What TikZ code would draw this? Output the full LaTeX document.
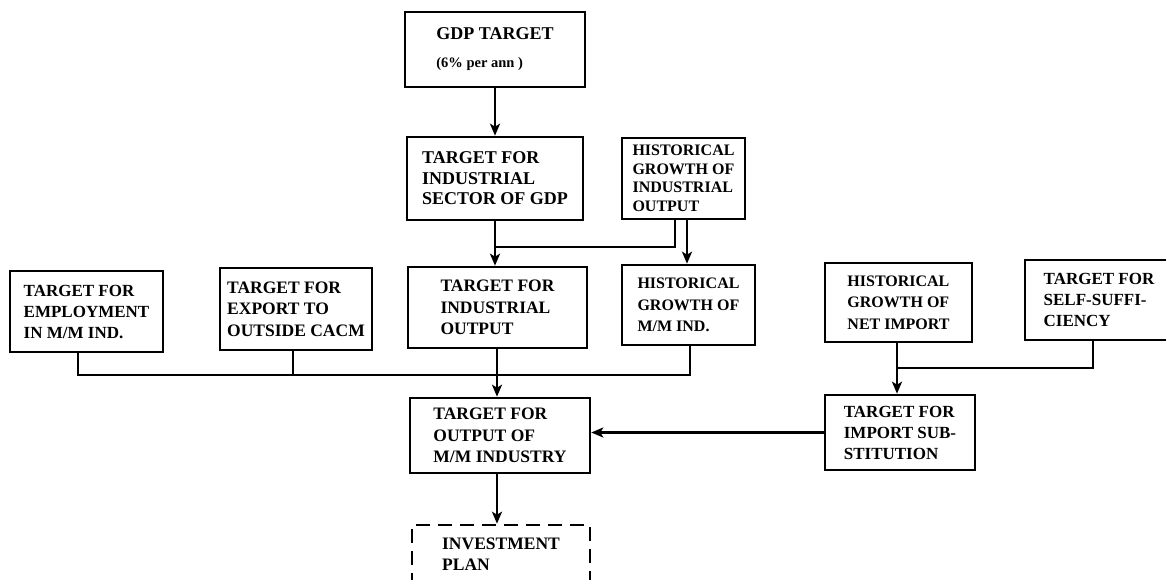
\documentclass[tikz,border=0pt]{standalone}
\usepackage{fontspec}
\setmainfont{Liberation Serif}
\usetikzlibrary{arrows.meta}
\begin{document}
\begin{tikzpicture}[x=1pt,y=-1pt,
  bx/.style={draw, line width=2.6pt, rectangle, align=left,
    font=\bfseries\fontsize{17.5}{21.5}\selectfont, inner sep=0pt},
  small/.style={font=\bfseries\fontsize{16}{18.5}\selectfont},
  narrow/.style={font=\bfseries\fontsize{16}{21.5}\selectfont},
  mid/.style={font=\bfseries\fontsize{17}{21}\selectfont},
  link/.style={line width=2.8pt},
  arr/.style={link, -{Stealth[length=12pt,width=10pt,inset=3pt]}},
]
\clip (0,0) rectangle (1166,580);
\fill[white] (0,0) rectangle (1166,580);

% top chain
\node[bx, font=\bfseries\fontsize{18}{22}\selectfont, minimum width=180pt, minimum height=75pt]
  (gdp) at (495,49.5) {GDP TARGET\\[6pt]{\fontsize{14.5}{17}\selectfont (6\% per ann )}};
\node[bx, font=\bfseries\fontsize{18}{20.5}\selectfont, minimum width=176pt, minimum height=83pt]
  (sector) at (495,178.5) {TARGET FOR\\INDUSTRIAL\\SECTOR OF GDP};
\node[bx, small, minimum width=123pt, minimum height=81pt]
  (histind) at (683.5,178.5) {HISTORICAL\\GROWTH OF\\INDUSTRIAL\\OUTPUT};

% middle row
\node[bx, mid, minimum width=153pt, minimum height=81pt]
  (employ) at (86.5,311.5) {TARGET FOR\\EMPLOYMENT\\IN M/M IND.};
\node[bx, minimum width=152pt, minimum height=82pt]
  (export) at (296,309) {TARGET FOR\\EXPORT TO\\OUTSIDE CACM};
\node[bx, minimum width=179pt, minimum height=81pt]
  (indout) at (497.5,307.5) {TARGET FOR\\INDUSTRIAL\\OUTPUT};
\node[bx, narrow, minimum width=133pt, minimum height=80pt]
  (histmm) at (688.5,305) {HISTORICAL\\GROWTH OF\\M/M IND.};
\node[bx, narrow, minimum width=147pt, minimum height=79pt]
  (netimp) at (898.5,302.5) {HISTORICAL\\GROWTH OF\\NET IMPORT};
\node[bx, mid, minimum width=148pt, minimum height=80pt]
  (selfsuf) at (1099,300) {TARGET FOR\\SELF-SUFFI-\\CIENCY};

% lower row
\node[bx, minimum width=180pt, minimum height=75pt]
  (mmout) at (500,435.5) {TARGET FOR\\OUTPUT OF\\M/M INDUSTRY};
\node[bx, mid, minimum width=150pt, minimum height=75pt]
  (impsub) at (900,432.5) {TARGET FOR\\IMPORT SUB-\\STITUTION};
\node[bx, dash pattern=on 14pt off 8pt, minimum width=178pt, minimum height=58pt]
  (invest) at (501,554) {INVESTMENT\\PLAN};

% junction points
\coordinate (j1) at (675,247);
\coordinate (j2) at (687,0);
\coordinate (cx) at (497,0);
\coordinate (busL) at (78,375);
\coordinate (busE) at (293,375);
\coordinate (busR) at (690,375);
\coordinate (j3) at (897,368);
\coordinate (j4) at (1093,368);

% connectors
\draw[arr] (gdp.south) -- (gdp.south |- sector.north);
\draw[arr] (sector.south) -- (sector.south |- indout.north);
\draw[link] (histind.south -| j1) -- (j1) -- (j1 -| sector.south);
\draw[arr] (histind.south -| j2) -- (histmm.north -| j2);

\draw[link] (employ.south -| busL) -- (busL) -- (busR) -- (histmm.south -| busR);
\draw[link] (export.south -| busE) -- (busE);
\draw[arr] (indout.south -| cx) -- (mmout.north -| cx);
\draw[arr] (mmout.south -| cx) -- (invest.north -| cx);

\draw[arr] (netimp.south -| j3) -- (impsub.north -| j3);
\draw[link] (selfsuf.south -| j4) -- (j4) -- (j3);
\draw[arr] (impsub.west) -- (impsub.west -| mmout.east);
\end{tikzpicture}
\end{document}
